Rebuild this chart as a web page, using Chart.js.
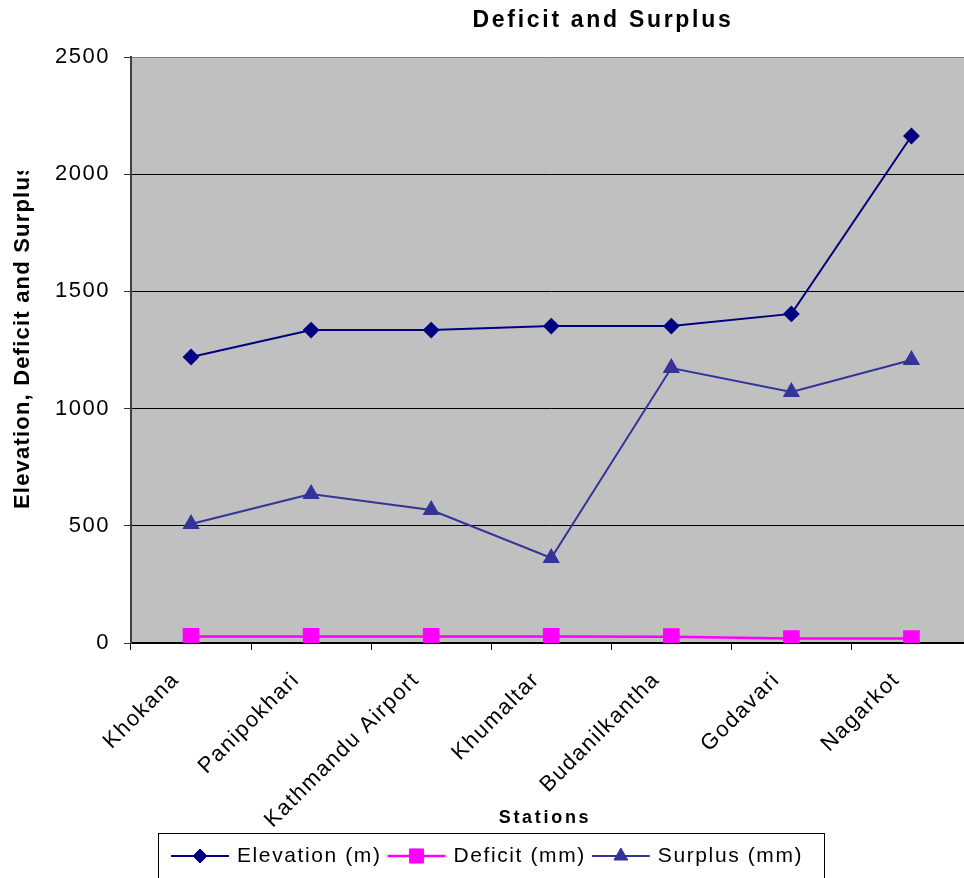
<!DOCTYPE html>
<html lang="en">
<head>
<meta charset="UTF-8">
<title>Deficit and Surplus</title>
<script src="https://cdn.jsdelivr.net/npm/chart.js"></script>
<style>
  html, body { margin: 0; padding: 0; background: #fff; overflow: hidden; }
  canvas { display: block; }
</style>
</head>
<body>
<canvas id="chart" width="984" height="878"></canvas>
<script>
// stations along the valley and their values
const stations = ['Khokana', 'Panipokhari', 'Kathmandu Airport', 'Khumaltar', 'Budanilkantha', 'Godavari', 'Nagarkot'];
const elevation = [1220, 1335, 1335, 1352, 1352, 1404, 2163];
const deficit = [28, 28, 28, 28, 27, 19, 19];
const surplus = [508, 636, 567, 363, 1173, 1071, 1207];
const yTicks = [0, 500, 1000, 1500, 2000, 2500];

const FONT = '"Liberation Sans", Arial, sans-serif';

// gray plot area, titles and the boxed legend
const framePlugin = {
  id: 'frame',
  beforeLayout(chart) { chart.ctx.letterSpacing = '1.5px'; },
  beforeDraw(chart) {
    const { ctx, chartArea: a } = chart;
    ctx.letterSpacing = '1.5px';
    ctx.save();
    ctx.fillStyle = '#C0C0C0';
    ctx.fillRect(a.left, a.top, a.right - a.left, a.bottom - a.top);
    ctx.restore();
  },
  afterDraw(chart) {
    const ctx = chart.ctx;
    ctx.save();
    ctx.fillStyle = '#000';

    // chart title
    ctx.font = 'bold 23px ' + FONT;
    ctx.letterSpacing = '2.7px';
    ctx.textAlign = 'center';
    ctx.textBaseline = 'middle';
    ctx.fillText('Deficit and Surplus', 603, 21);

    // x axis title
    ctx.font = 'bold 18px ' + FONT;
    ctx.letterSpacing = '2.7px';
    ctx.fillText('Stations', 545, 818);

    // y axis title, cut off at the top
    ctx.save();
    ctx.beginPath();
    ctx.rect(0, 171, 60, 700);
    ctx.clip();
    ctx.translate(29, 509);
    ctx.rotate(-Math.PI / 2);
    ctx.font = 'bold 22px ' + FONT;
    ctx.letterSpacing = '1.2px';
    ctx.textAlign = 'left';
    ctx.textBaseline = 'alphabetic';
    ctx.fillText('Elevation, Deficit and Surplus', 0, 0);
    ctx.restore();

    // legend
    ctx.strokeStyle = '#000';
    ctx.lineWidth = 1;
    ctx.strokeRect(158.5, 833.5, 666, 60);
    ctx.font = '21px ' + FONT;
    ctx.letterSpacing = '1.6px';
    ctx.textAlign = 'left';
    ctx.textBaseline = 'middle';
    const ly = 856;
    let x = 171;
    chart.data.datasets.forEach(ds => {
      ctx.strokeStyle = ds.borderColor;
      ctx.lineWidth = ds.borderWidth;
      ctx.beginPath();
      ctx.moveTo(x, ly);
      ctx.lineTo(x + 58, ly);
      ctx.stroke();
      ctx.fillStyle = ds.pointBackgroundColor;
      ctx.strokeStyle = ds.pointBorderColor;
      ctx.lineWidth = 1;
      Chart.helpers.drawPoint(ctx, {
        pointStyle: ds.pointStyle, radius: ds.pointRadius, rotation: 0, borderWidth: 1
      }, x + 29, ly);
      ctx.fillStyle = '#000';
      ctx.fillText(ds.label, x + 66, ly);
      x += 66 + ctx.measureText(ds.label).width + 6;
    });
    ctx.restore();
  }
};

new Chart(document.getElementById('chart'), {
  type: 'line',
  data: {
    labels: stations,
    datasets: [
      {
        label: 'Elevation (m)',
        data: elevation,
        borderColor: '#000080',
        borderWidth: 2,
        pointStyle: 'rectRot',
        pointRadius: 7,
        pointBackgroundColor: '#000080',
        pointBorderColor: '#000080',
        tension: 0
      },
      {
        label: 'Deficit (mm)',
        data: deficit,
        borderColor: '#FF00FF',
        borderWidth: 2.5,
        pointStyle: 'rect',
        pointRadius: 10,
        pointBackgroundColor: '#FF00FF',
        pointBorderColor: '#FF00FF',
        tension: 0
      },
      {
        label: 'Surplus (mm)',
        data: surplus,
        borderColor: '#333399',
        borderWidth: 2,
        pointStyle: 'triangle',
        pointRadius: 8,
        pointBackgroundColor: '#333399',
        pointBorderColor: '#333399',
        tension: 0
      }
    ]
  },
  options: {
    responsive: false,
    animation: false,
    devicePixelRatio: 1,
    layout: { padding: { top: 57, right: 4, left: 0, bottom: 0 } },
    plugins: {
      legend: { display: false },
      title: { display: false },
      tooltip: { enabled: false }
    },
    scales: {
      x: {
        type: 'category',
        offset: true,
        afterFit: s => { s.height = 235; },
        grid: {
          offset: true,
          drawOnChartArea: false,
          tickLength: 7,
          color: '#000'
        },
        border: { color: '#000', width: 2 },
        ticks: {
          color: '#000',
          font: { family: FONT, size: 22 },
          minRotation: 45,
          maxRotation: 45,
          autoSkip: false,
          padding: 17,
          labelOffset: -15
        }
      },
      y: {
        min: yTicks[0],
        max: yTicks[yTicks.length - 1],
        afterFit: s => { s.width = 131; },
        afterBuildTicks: s => { s.ticks = yTicks.map(v => ({ value: v })); },
        grid: {
          color: c => (c.tick && c.tick.value === yTicks[yTicks.length - 1]) ? '#808080' : '#000',
          tickColor: '#333',
          tickLength: 7,
          lineWidth: 1
        },
        border: { color: '#404040', width: 2 },
        ticks: {
          color: '#000',
          font: { family: FONT, size: 22 },
          padding: 14,
          callback: v => String(v)
        }
      }
    }
  },
  plugins: [framePlugin]
});
</script>
</body>
</html>
